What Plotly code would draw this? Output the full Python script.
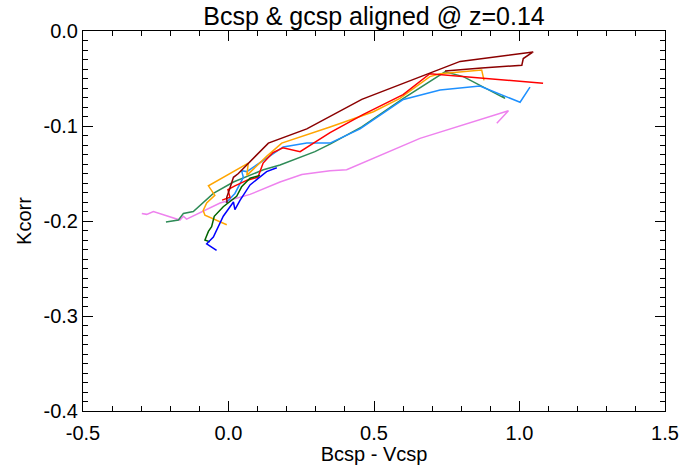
import plotly.graph_objects as go

# ---- data ----
violet_x = [-0.298, -0.281, -0.258, -0.167, -0.155, -0.144, -0.029, 0.005, 0.074, 0.177, 0.252, 0.349, 0.406, 0.658, 0.962, 0.922]
violet_y = [-0.192, -0.193, -0.190, -0.199, -0.195, -0.198, -0.181, -0.178, -0.172, -0.159, -0.151, -0.147, -0.146, -0.113, -0.084, -0.097]

maroon_x = [-0.005, -0.006, 0.003, 0.017, 0.034, 0.137, 0.269, 0.458, 0.796, 1.047, 1.013, 1.008, 0.870, 0.744]
maroon_y = [-0.181, -0.175, -0.167, -0.154, -0.150, -0.118, -0.103, -0.072, -0.032, -0.022, -0.029, -0.036, -0.039, -0.042]

red_x = [-0.022, 0.005, -0.002, 0.022, 0.064, 0.101, 0.119, 0.153, 0.187, 0.246, 0.349, 0.462, 0.600, 0.692, 1.081]
red_y = [-0.178, -0.175, -0.167, -0.163, -0.157, -0.154, -0.139, -0.128, -0.123, -0.127, -0.107, -0.088, -0.067, -0.045, -0.055]

orange_x = [-0.006, -0.081, -0.087, -0.075, -0.047, -0.069, 0.068, 0.063, 0.131, 0.183, 0.349, 0.498, 0.589, 0.692, 0.727, 0.870, 0.878]
orange_y = [-0.204, -0.194, -0.189, -0.181, -0.173, -0.163, -0.139, -0.152, -0.132, -0.118, -0.101, -0.085, -0.071, -0.048, -0.045, -0.041, -0.052]

dodger_x = [-0.009, 0.022, 0.051, 0.045, 0.063, 0.120, 0.188, 0.269, 0.349, 0.452, 0.601, 0.727, 0.864, 1.002, 1.036]
dodger_y = [-0.181, -0.171, -0.154, -0.147, -0.148, -0.136, -0.122, -0.118, -0.118, -0.103, -0.072, -0.062, -0.058, -0.075, -0.059]

seagreen_x = [-0.215, -0.172, -0.155, -0.121, -0.052, 0.017, 0.120, 0.177, 0.297, 0.349, 0.458, 0.601, 0.744, 0.807, 0.950, 0.940]
seagreen_y = [-0.201, -0.199, -0.192, -0.190, -0.171, -0.159, -0.146, -0.141, -0.127, -0.119, -0.101, -0.071, -0.043, -0.048, -0.071, -0.068]

dkgreen_x = [-0.064, -0.081, -0.069, -0.058, -0.049, -0.018, 0.028, 0.045, 0.074, 0.108]
dkgreen_y = [-0.222, -0.220, -0.211, -0.206, -0.195, -0.185, -0.174, -0.164, -0.155, -0.152]

blue_x = [-0.041, -0.075, -0.052, -0.018, 0.017, 0.022, 0.040, 0.074, 0.131, 0.166]
blue_y = [-0.231, -0.224, -0.217, -0.195, -0.180, -0.188, -0.178, -0.162, -0.148, -0.144]

series = [
    (violet_x, violet_y, "#EE82EE"),
    (seagreen_x, seagreen_y, "#2E8B57"),
    (dodger_x, dodger_y, "#1E90FF"),
    (orange_x, orange_y, "#FFA500"),
    (red_x, red_y, "#FF0000"),
    (maroon_x, maroon_y, "#8B0000"),
    (dkgreen_x, dkgreen_y, "#006400"),
    (blue_x, blue_y, "#0000FF"),
]

x_ticks = [-0.5, 0.0, 0.5, 1.0, 1.5]
x_ticklabels = ["-0.5", "0.0", "0.5", "1.0", "1.5"]
y_ticks = [0.0, -0.1, -0.2, -0.3, -0.4]
y_ticklabels = ["0.0", "-0.1", "-0.2", "-0.3", "-0.4"]

FONT = "Liberation Sans, Arial, Helvetica, sans-serif"

fig = go.Figure()
for xs, ys, c in series:
    fig.add_trace(go.Scatter(x=xs, y=ys, mode="lines",
                             line=dict(color=c, width=1.5), showlegend=False))

axis_common = dict(
    showline=True, linecolor="black", linewidth=1, mirror="ticks",
    ticks="inside", ticklen=10, tickwidth=1, tickcolor="black",
    showgrid=False, zeroline=False, automargin=False,
    tickfont=dict(family=FONT, size=20, color="black"),
)

fig.update_layout(
    width=683, height=465,
    margin=dict(l=83, r=18, t=31, b=54),
    paper_bgcolor="white", plot_bgcolor="white",
    title=dict(text="Bcsp & gcsp aligned @ z=0.14", x=0.5, xref="paper",
               xanchor="center", y=1 - 16 / 465, yref="container", yanchor="middle",
               font=dict(family=FONT, size=25, color="black")),
    xaxis=dict(range=[-0.5, 1.5], tickvals=x_ticks, ticktext=x_ticklabels,
               ticklabelstandoff=4,
               title=dict(text="Bcsp - Vcsp", font=dict(family=FONT, size=20, color="black"), standoff=0),
               minor=dict(dtick=0.1, ticklen=5, ticks="inside", tickcolor="black", tickwidth=1),
               **axis_common),
    yaxis=dict(range=[-0.4, 0.0], tickvals=y_ticks, ticktext=y_ticklabels,
               title=dict(text="Kcorr", font=dict(family=FONT, size=20, color="black"), standoff=6),
               minor=dict(dtick=0.01, ticklen=5, ticks="inside", tickcolor="black", tickwidth=1),
               **axis_common),
)

fig.write_html("out.html")
